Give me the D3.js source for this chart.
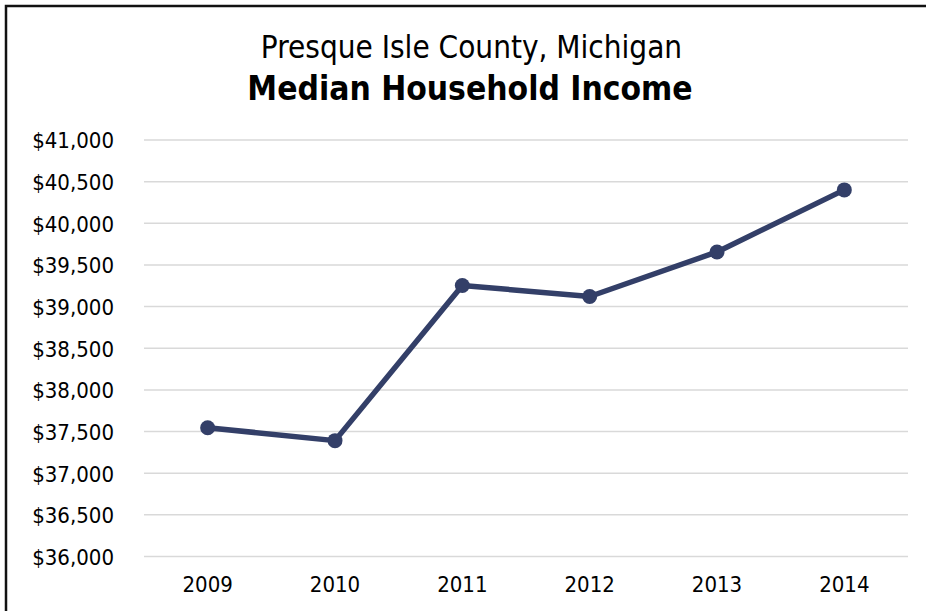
<!DOCTYPE html>
<html>
<head>
<meta charset="utf-8">
<script src="https://cdn.jsdelivr.net/npm/d3@7"></script>
<style>
  html, body { margin: 0; padding: 0; background: #fff; }
  svg { display: block; }
  text { font-family: "DejaVu Sans Condensed", "DejaVu Sans", sans-serif; fill: #000; }
</style>
</head>
<body>
<svg id="chart" width="926" height="611"></svg>
<script>
const years = ["2009", "2010", "2011", "2012", "2013", "2014"];
const incomes = [37540, 37385, 39248, 39115, 39650, 40395];
const yTicks = [36000, 36500, 37000, 37500, 38000, 38500, 39000, 39500, 40000, 40500, 41000];
const titleLine1 = "Presque Isle County, Michigan";
const titleLine2 = "Median Household Income";

const W = 926, H = 611;
const svg = d3.select("#chart");

// outer border (extends past right/bottom edges)
svg.append("rect")
  .attr("x", 6).attr("y", 6)
  .attr("width", W + 10).attr("height", H + 10)
  .attr("fill", "none").attr("stroke", "#111").attr("stroke-width", 2.5);

const margin = { left: 144, right: 18, top: 139.5, bottom: 55 };
const x = d3.scaleBand().domain(years).range([margin.left, W - margin.right]);
const y = d3.scaleLinear().domain([36000, 41000]).range([H - margin.bottom, margin.top]);

// title
svg.append("text").attr("x", 471.5).attr("y", 58)
  .attr("text-anchor", "middle").attr("font-size", 31.2)
  .text(titleLine1);
svg.append("text").attr("x", 470).attr("y", 100)
  .attr("text-anchor", "middle").attr("font-size", 33.3).attr("font-weight", "bold")
  .text(titleLine2);

// gridlines
const yAxisGrid = d3.axisLeft(y).tickValues(yTicks).tickSize(-(W - margin.right - margin.left)).tickFormat("");
const grid = svg.append("g").attr("transform", `translate(${margin.left},0)`).call(yAxisGrid);
grid.select(".domain").remove();
grid.selectAll("line").attr("stroke", "#d9d9d9").attr("stroke-width", 1.5);

// y labels
const fmt = d => "$" + d3.format(",")(d);
const yAxis = d3.axisLeft(y).tickValues(yTicks).tickSize(0).tickPadding(30).tickFormat(fmt);
const ya = svg.append("g").attr("transform", `translate(${margin.left},0)`).call(yAxis);
ya.select(".domain").remove();
ya.selectAll("text").attr("font-size", 22).attr("font-family", "DejaVu Sans Condensed, DejaVu Sans, sans-serif").attr("fill", "#000").attr("dy", "0.38em");

// x labels
const xAxis = d3.axisBottom(x).tickSize(0).tickPadding(20);
const xa = svg.append("g").attr("transform", `translate(0,${H - margin.bottom})`).call(xAxis);
xa.select(".domain").remove();
xa.selectAll("text").attr("font-size", 22).attr("font-family", "DejaVu Sans Condensed, DejaVu Sans, sans-serif").attr("fill", "#000");

// line
const data = years.map((yr, i) => ({ yr, v: incomes[i] }));
const color = "#333f68";
const line = d3.line().x(d => x(d.yr) + x.bandwidth() / 2).y(d => y(d.v));
svg.append("path").datum(data).attr("d", line)
  .attr("fill", "none").attr("stroke", color).attr("stroke-width", 5.5)
  .attr("stroke-linejoin", "round");
svg.selectAll("circle.pt").data(data).join("circle")
  .attr("class", "pt")
  .attr("cx", d => x(d.yr) + x.bandwidth() / 2)
  .attr("cy", d => y(d.v))
  .attr("r", 7.5)
  .attr("fill", color);
</script>
</body>
</html>
